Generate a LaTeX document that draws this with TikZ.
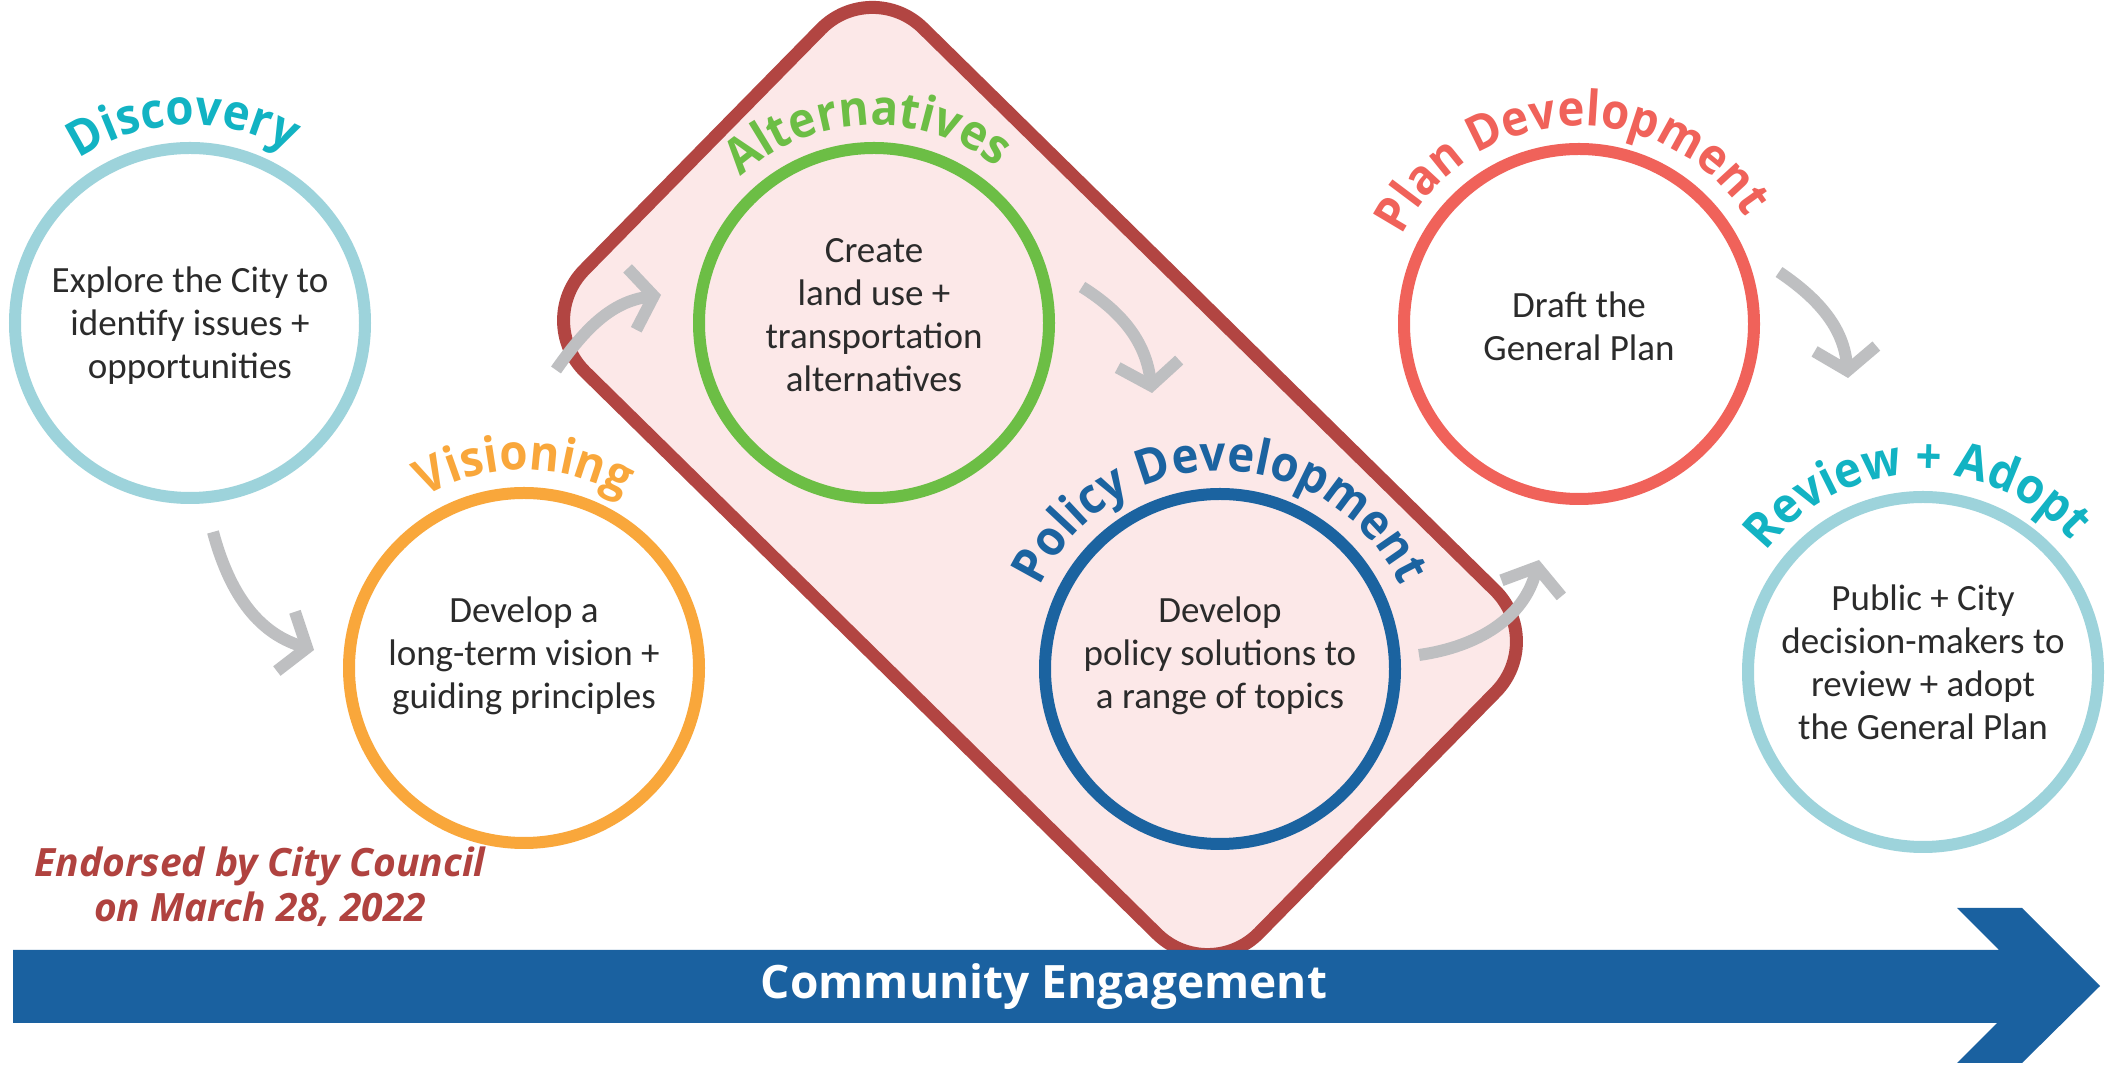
\documentclass[tikz,border=0pt]{standalone}
\usepackage{fontspec}
\setmainfont{Carlito}
\newfontfamily\titlefont{Open Sans}[FakeStretch=0.93]
\newfontfamily\engfont{Open Sans}
\usetikzlibrary{decorations.text,arrows.meta,calc}
\definecolor{ringblue}{HTML}{9DD3DB}
\definecolor{tealtxt}{HTML}{12B3C3}
\definecolor{orangec}{HTML}{F9A73B}
\definecolor{greenc}{HTML}{6CBE45}
\definecolor{polblue}{HTML}{1B63A0}
\definecolor{planred}{HTML}{F0625A}
\definecolor{diamondred}{HTML}{B24542}
\definecolor{diamondfill}{HTML}{FCE8E8}
\definecolor{arrowgray}{HTML}{BEBFC1}
\definecolor{engblue}{HTML}{1A61A0}
\definecolor{endred}{HTML}{B0423F}
\definecolor{bodygray}{HTML}{2B2B2B}
\begin{document}
\begin{tikzpicture}[x=1pt,y=1pt,
  stage/.style={circle, minimum size=350pt, line width=12pt, inner sep=0pt},
  body/.style={align=center, text=bodygray, font=\fontsize{37}{43}\selectfont},
  flow/.style={draw=arrowgray, line width=12pt, -{Straight Barb[length=22pt, width=62pt]}},
  titlearc/.style={decorate, decoration={text along path, text align=center, text color=#1}}
]
\useasboundingbox (0,0) rectangle (2113,1065);
\fill[white] (0,0) rectangle (2113,1065);

% grouping rounded box
\node[draw=diamondred, fill=diamondfill, line width=13pt, rounded corners=72pt,
      minimum width=946pt, minimum height=482pt, inner sep=0pt, rotate=-44.5] (grp) at (1040,584) {};

% stage circles
\node[stage, draw=ringblue] (disc) at (190,742) {};
\node[stage, draw=orangec] (vis) at (524,397) {};
\node[stage, draw=greenc] (alt) at (874,742) {};
\node[stage, draw=polblue] (pol) at (1220,396) {};
\node[stage, draw=planred] (plan) at (1579,741) {};
\node[stage, draw=ringblue] (rev) at (1923,393) {};

% body texts
\node[body] (disct) at (190,739) {Explore the City to\\identify issues +\\opportunities};
\node[body] (vist) at (524,409) {Develop a\\long-term vision +\\guiding principles};
\node[body] (altt) at (874,750) {Create\\land use +\\transportation\\alternatives};
\node[body] (polt) at (1220,409) {Develop\\policy solutions to\\a range of topics};
\node[body] (plant) at (1579,739) {Draft the\\General Plan};
\node[body] (revt) at (1923,403) {Public + City\\decision-makers to\\review + adopt\\the General Plan};

% arced titles
\path[titlearc=tealtxt, decoration={text={|\titlefont\bfseries\fontsize{49}{52}\selectfont|Discovery}}]
  (disc.center) ++(182:198pt) arc[start angle=182, end angle=2, radius=198pt];
\path[titlearc=orangec, decoration={text={|\titlefont\bfseries\fontsize{49}{52}\selectfont|Visioning}}]
  (vis.center) ++(180:198pt) arc[start angle=180, end angle=0, radius=198pt];
\path[titlearc=greenc, decoration={text={|\titlefont\bfseries\fontsize{49}{52}\selectfont|Alternatives}}]
  (alt.center) ++(182:198pt) arc[start angle=182, end angle=2, radius=198pt];
\path[titlearc=polblue, decoration={text={|\titlefont\bfseries\fontsize{49}{52}\selectfont|Policy Development}}]
  (pol.center) ++(180:198pt) arc[start angle=180, end angle=0, radius=198pt];
\path[titlearc=planred, decoration={text={|\titlefont\bfseries\fontsize{49}{52}\selectfont|Plan Development}}]
  (plan.center) ++(183:198pt) arc[start angle=183, end angle=3, radius=198pt];
\path[titlearc=tealtxt, decoration={text={|\titlefont\bfseries\fontsize{49}{52}\selectfont|Review + Adopt}}]
  (rev.center) ++(182:198pt) arc[start angle=182, end angle=2, radius=198pt];

% gray flow arrows
\coordinate (a1s) at (213,533); \coordinate (a1e) at (314,415);
\coordinate (a2s) at (556,695); \coordinate (a2e) at (661,770);
\coordinate (a3s) at (1082,778); \coordinate (a3e) at (1152,672);
\coordinate (a4s) at (1419,410); \coordinate (a4e) at (1539,505);
\coordinate (a5s) at (1779,793); \coordinate (a5e) at (1848,687);
\draw[flow] (a1s) to[out=-75, in=163] (a1e);
\draw[flow] (a2s) to[out=55, in=188] (a2e);
\draw[flow] (a3s) to[out=-32, in=97] (a3e);
\draw[flow] (a4s) to[out=8, in=255] (a4e);
\draw[flow] (a5s) to[out=-34, in=95] (a5e);

% community engagement arrow
\fill[engblue] (13,115) -- (1999,115) -- (1957,157) -- (2022,157) -- (2100,79)
  -- (2022,2) -- (1957,2) -- (1997,42) -- (13,42) -- cycle;
\node[anchor=base, text=white, font=\engfont\bfseries\fontsize{46}{50}\selectfont] (eng) at (1044,66) {Community Engagement};

% endorsement
\node[align=center, text=endred, font=\engfont\bfseries\itshape\fontsize{39}{45}\selectfont] (endorse) at (260,178) {Endorsed by City Council\\on March 28, 2022};
\end{tikzpicture}
\end{document}
